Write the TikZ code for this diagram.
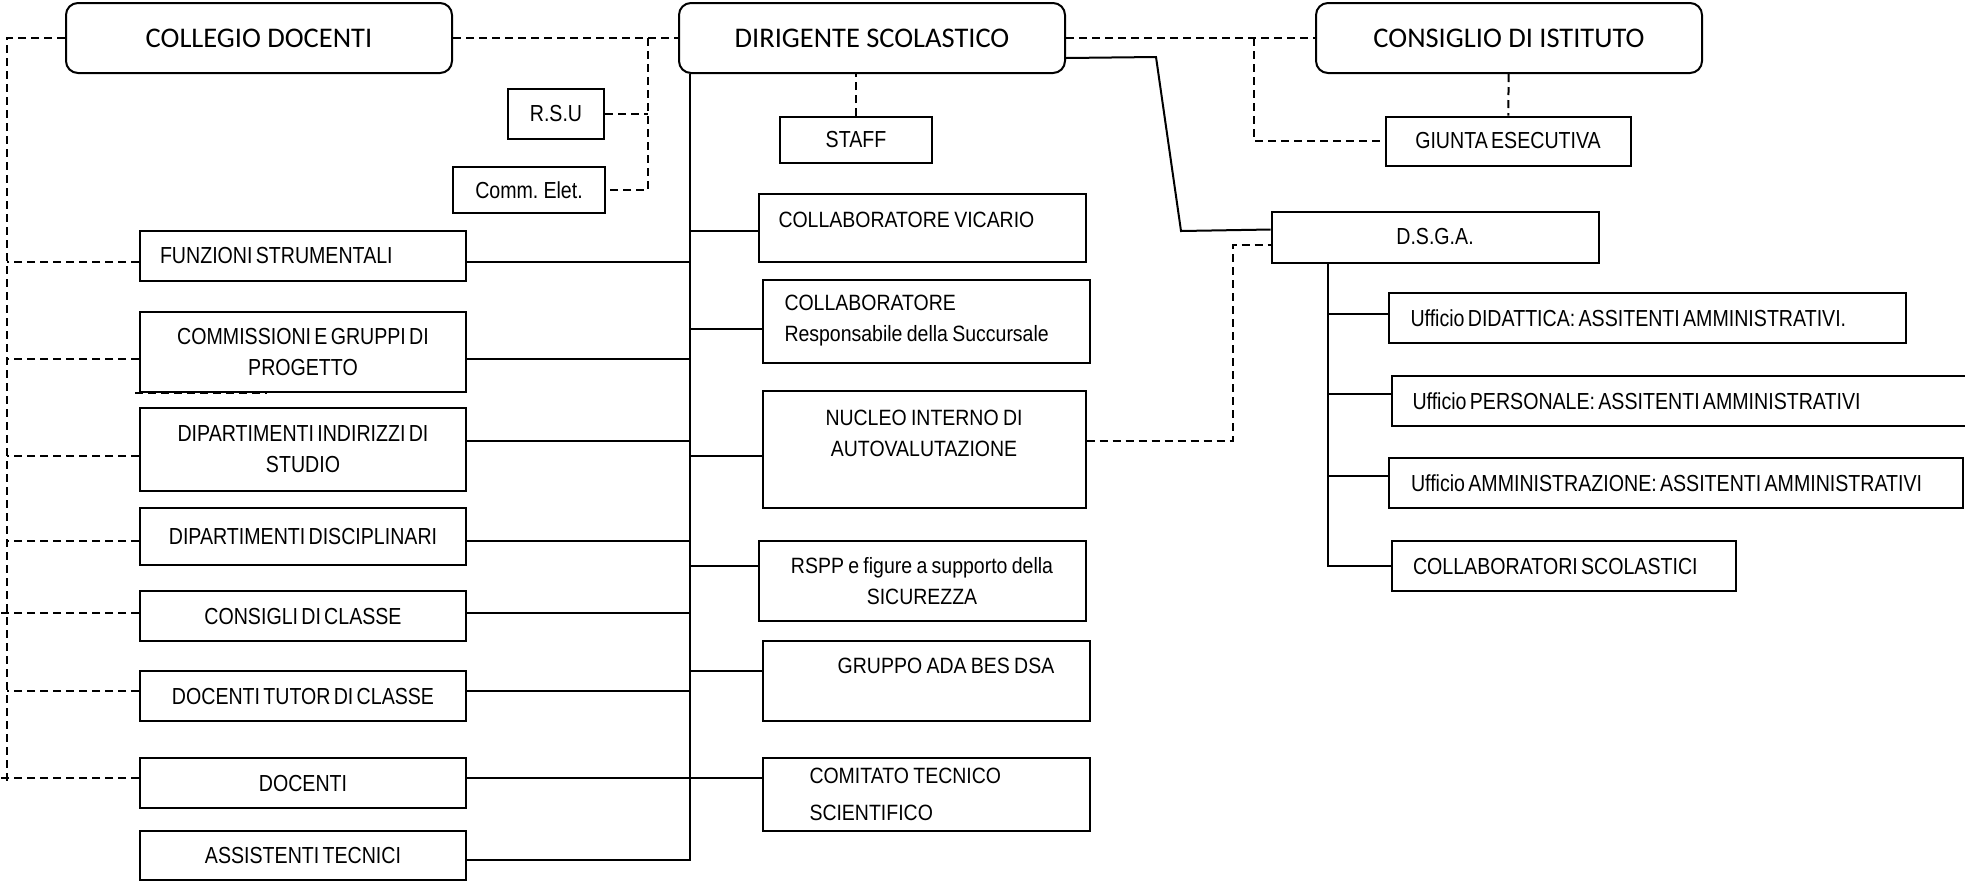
\documentclass[tikz,border=0pt]{standalone}
\usepackage{fontspec}
\usepackage{tikz}

\newfontfamily\narrowfont[FakeStretch=0.845, WordSpace=0.6]{Liberation Sans}
\newfontfamily\midfont[FakeStretch=0.88, WordSpace=0.8]{Liberation Sans}
\newfontfamily\titlefont{Carlito}

\tikzset{
  box/.style={draw, line width=0.2mm, inner sep=0pt, align=center,
    font=\narrowfont\fontsize{6.6}{8.8}\selectfont},
  midbox/.style={box, font=\midfont\fontsize{6.3}{8.8}\selectfont},
  leftbox/.style={box, minimum width=32.6mm},
  topbox/.style={box, rounded corners=1.2mm, minimum width=38.6mm, minimum height=7mm,
    font=\titlefont\fontsize{8.1}{10}\selectfont},
  ltext/.style 2 args={align=flush left, minimum width=#1, inner xsep=#2, text width=#1-2*#2},
  solidline/.style={line width=0.2mm},
  dashline/.style={line width=0.2mm, dash pattern=on 0.8mm off 0.5mm},
}

\begin{document}
\begin{tikzpicture}[x=0.1mm, y=-0.1mm]
    \useasboundingbox (0,0) rectangle (1965,882);

    % organi collegiali
    \node[topbox] (cd) at (259,38) {COLLEGIO DOCENTI};
    \node[topbox] (ds) at (872,38) {DIRIGENTE SCOLASTICO};
    \node[topbox] (ci) at (1509,38) {CONSIGLIO DI ISTITUTO};

    \node[box, minimum width=9.6mm, minimum height=5mm] (rsu) at (556,114) {R.S.U};
    \node[box, minimum width=15.2mm, minimum height=4.6mm] (comm) at (529,190) {Comm. Elet.};
    \node[box, minimum width=15.2mm, minimum height=4.6mm] (staff) at (856,140) {STAFF};
    \node[box, minimum width=24.5mm, minimum height=4.9mm] (giunta) at (1508,141) {GIUNTA ESECUTIVA};
    \node[box, minimum width=32.7mm, minimum height=5.1mm] (dsga) at (1435,237) {D.S.G.A.};

    % colonna sinistra
    \node[leftbox, ltext={32.6mm}{2mm}, minimum height=5mm] (fs) at (303,256) {FUNZIONI STRUMENTALI};
    \node[leftbox, minimum height=8mm] (cgp) at (303,352) {COMMISSIONI E GRUPPI DI\\PROGETTO};
    \node[leftbox, minimum height=8.3mm] (dis) at (303,449) {DIPARTIMENTI INDIRIZZI DI\\STUDIO};
    \node[leftbox, minimum height=5.7mm] (dd) at (303,536) {DIPARTIMENTI DISCIPLINARI};
    \node[leftbox, minimum height=5mm] (cc) at (303,616) {CONSIGLI DI CLASSE};
    \node[leftbox, minimum height=5mm] (dtc) at (303,696) {DOCENTI TUTOR DI CLASSE};
    \node[leftbox, minimum height=5mm] (doc) at (303,783) {DOCENTI};
    \node[leftbox, minimum height=4.9mm] (ast) at (303,855) {ASSISTENTI TECNICI};

    % colonna centrale
    \node[midbox, ltext={32.7mm}{2mm}, minimum height=6.8mm, text depth=1.6mm] (cv) at (922,228) {COLLABORATORE VICARIO};
    \node[midbox, ltext={32.7mm}{2.2mm}, minimum height=8.3mm] (crs) at (926,321) {COLLABORATORE\\Responsabile della Succursale};
    \node[midbox, minimum width=32.3mm, minimum height=11.7mm] (niv) at (924,449) {NUCLEO INTERNO DI\\AUTOVALUTAZIONE\\\mbox{}};
    \node[midbox, minimum width=32.7mm, minimum height=8mm] (rspp) at (922,581) {RSPP e figure a supporto della\\SICUREZZA};
    \node[midbox, minimum width=32.7mm, minimum height=8mm, text depth=3mm] (gab) at (926,681) {\hspace*{4mm}GRUPPO ADA BES DSA};
    \node[midbox, ltext={32.7mm}{4.7mm}, minimum height=7.3mm] (cts) at (926,794) {COMITATO TECNICO\\[0.6mm]SCIENTIFICO};

    % colonna destra
    \node[box, ltext={51.7mm}{2.2mm}, minimum height=5mm] (ud) at (1647,318) {Ufficio DIDATTICA: ASSITENTI AMMINISTRATIVI.};
    \node[box, ltext={58.3mm}{2.1mm}, minimum height=5mm] (up) at (1683,401) {Ufficio PERSONALE: ASSITENTI AMMINISTRATIVI};
    \node[box, ltext={57.4mm}{2.2mm}, minimum height=5mm] (ua) at (1676,483) {Ufficio AMMINISTRAZIONE: ASSITENTI AMMINISTRATIVI};
    \node[box, ltext={34.4mm}{2.1mm}, minimum height=5mm] (csc) at (1564,566) {COLLABORATORI SCOLASTICI};

    % linee tratteggiate
    \coordinate (lbus) at ([xshift=-5.8mm]cd.west);
    \draw[dashline] (cd.west) -| (lbus |- doc.west);
    \draw[dashline] ([yshift=0.5mm]doc.west) -- ++(-140,0);
    \draw[dashline] ([yshift=0.3mm]cc.west) -- ++(-140,0);
    \foreach \n/\dy in {fs/-0.6,cgp/-0.7,dis/-0.7,dd/-0.5,dtc/0.5}
        \draw[dashline] ([yshift=\dy mm]\n.west) -- ++(-132,0);
    \draw[dashline] ([xshift=-0.4mm]cgp.south west) -- ++(132,0);

    \draw[dashline] (cd) -- (ds);
    \coordinate (mbus) at ([xshift=-3mm]ds.west);
    \draw[dashline] (mbus) |- (comm.east);
    \draw[dashline] (rsu.east) -- (rsu.east -| mbus);
    \draw[dashline] (staff.north) -- (staff.north |- ds.south);

    \draw[dashline] (ds) -- (ci);
    \coordinate (rbus) at ([xshift=-6.1mm]ci.west);
    \draw[dashline] (rbus) |- (giunta.west);
    \draw[dashline] (ci) -- (giunta);

    \coordinate (k3) at ([xshift=-3.8mm]dsga.west);
    \coordinate (pd) at ([yshift=1.9mm]dsga.south west);
    \draw[dashline] ([yshift=0.85mm]niv.east) -| (k3 |- pd) -- (pd);

    % linee continue
    \coordinate (vbus) at ([xshift=1.2mm]ds.south west);
    \draw[solidline] (vbus) |- ([yshift=-0.5mm]ast.east);
    \foreach \n/\dy in {fs/-0.6,cgp/-0.7,dis/0.8,dd/-0.5,cc/0.3,dtc/0.5} {
        \coordinate (p) at ([yshift=\dy mm]\n.east);
        \draw[solidline] (p) -- (p -| vbus);
    }
    \foreach \n/\dy in {cv/-0.3,crs/-0.75,niv/-0.65,rspp/1.5,gab/1} {
        \coordinate (p) at ([yshift=\dy mm]\n.west);
        \draw[solidline] (p) -- (p -| vbus);
    }
    \coordinate (pdoc) at ([yshift=0.5mm]doc.east);
    \draw[solidline] (pdoc) -- (pdoc -| cts.west);

    \coordinate (k1) at (1156,57);
    \coordinate (k2) at (1181,231);
    \draw[solidline] ([yshift=1.6mm]ds.south east) -- (k1) -- (k2) -- ([yshift=-1.9mm]dsga.north west);

    \coordinate (dbus) at ([xshift=5.7mm]dsga.south west);
    \draw[solidline] (dbus) |- (csc.west);
    \foreach \n/\dy in {ud/0.4,up/0.7,ua/0.7} {
        \coordinate (p) at ([yshift=\dy mm]\n.west);
        \draw[solidline] (p) -- (p -| dbus);
    }
\end{tikzpicture}
\end{document}
